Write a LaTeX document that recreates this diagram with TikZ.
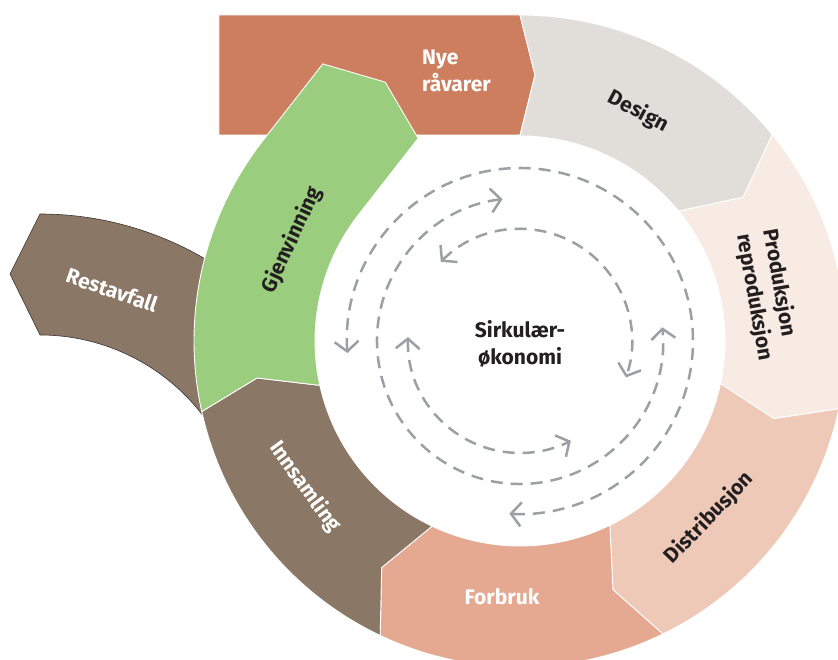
\documentclass[tikz,border=0pt]{standalone}
\usepackage{fontspec}
\setmainfont{Fira Sans}
\usetikzlibrary{arrows.meta,calc}

\definecolor{nyecol}{HTML}{CC7E5E}
\definecolor{designcol}{HTML}{E1DEDA}
\definecolor{prodcol}{HTML}{F8EBE3}
\definecolor{distcol}{HTML}{EFC9B8}
\definecolor{forbcol}{HTML}{E5A891}
\definecolor{browncol}{HTML}{8A7765}
\definecolor{gjencol}{HTML}{9BCD7E}
\definecolor{dashcol}{HTML}{9CA0A4}
\definecolor{txtcol}{HTML}{231F20}
\definecolor{restline}{HTML}{3A3532}

\begin{document}
\begin{tikzpicture}[x=1pt,y=1pt,
    ringseg/.style={draw=white,line width=0.9pt,line join=round},
    lbl/.style={font=\bfseries\fontsize{21}{27}\selectfont,align=center,inner sep=0pt},
    cycarrow/.style={draw=dashcol,line width=2.5pt,dash pattern=on 12pt off 8pt,
      {Straight Barb[length=10pt,width=24pt]}-{Straight Barb[length=10pt,width=24pt]}}]
      \useasboundingbox (-520,-319) rectangle (318,341);
      \clip (-520,-319) rectangle (318,341);

      %restavfall
      \coordinate (rest_c) at (-480,-199);
      \path[fill=browncol,draw=restline,line width=0.6pt] ($(rest_c)+(33:326pt)$) arc[start angle=33,end angle=90,radius=326pt]
        -- ($(rest_c)+(-30,266)$) -- ($(rest_c)+(90:205pt)$) arc[start angle=90,end angle=33,radius=205pt] -- cycle;

      %nye raavarer
      \path[ringseg,fill=nyecol] (-301,206) -- (-301,326) -- (0,326) -- (15,266) -- (0,206) -- cycle;

      %ring
      \path[ringseg,fill=designcol] (90:326pt) arc[start angle=90,end angle=39.3,radius=326pt] -- (32.8:265.5pt)
        -- (39.3:205pt) arc[start angle=39.3,end angle=90,radius=205pt] -- (15,266) -- cycle;
      \path[ringseg,fill=prodcol] (39.3:326pt) arc[start angle=39.3,end angle=-12,radius=326pt] -- (-17:265.5pt)
        -- (-12:205pt) arc[start angle=-12,end angle=39.3,radius=205pt] -- (32.8:265.5pt) -- cycle;
      \path[ringseg,fill=distcol] (-12:326pt) arc[start angle=-12,end angle=-64,radius=326pt] -- (-69.5:265.5pt)
        -- (-64:205pt) arc[start angle=-64,end angle=-12,radius=205pt] -- (-17:265.5pt) -- cycle;
      \path[ringseg,fill=forbcol] (-64:326pt) arc[start angle=-64,end angle=-115.4,radius=326pt] -- (-121.4:265.5pt)
        -- (-115.4:205pt) arc[start angle=-115.4,end angle=-64,radius=205pt] -- (-69.5:265.5pt) -- cycle;
      \path[ringseg,fill=browncol] (-115.4:326pt) arc[start angle=-115.4,end angle=-167.5,radius=326pt] -- (-172:265.5pt)
        -- (-167.5:205pt) arc[start angle=-167.5,end angle=-115.4,radius=205pt] -- (-121.4:265.5pt) -- cycle;

      %gjenvinning
      \coordinate (gjen_o) at ($(142:326pt)+(52:97pt)$);
      \coordinate (gjen_i) at ($(142:205pt)+(52:97pt)$);
      \coordinate (gjen_t) at ($(gjen_o)!0.5!(gjen_i)+(52:24pt)$);
      \path[ringseg,fill=gjencol] (192.5:326pt) arc[start angle=192.5,end angle=142,radius=326pt] -- (gjen_o) -- (gjen_t)
        -- (gjen_i) -- (142:205pt) arc[start angle=142,end angle=192.5,radius=205pt] -- (188:265.5pt) -- cycle;

      %dashed loops
      \draw[cycarrow] (184:173pt) arc[start angle=184,end angle=-93.5,radius=173pt];
      \draw[cycarrow] (97:143pt) arc[start angle=97,end angle=365.5,radius=143pt];
      \draw[cycarrow] (135:112pt) arc[start angle=135,end angle=-19,radius=112pt];
      \draw[cycarrow] (178:112pt) arc[start angle=178,end angle=297,radius=112pt];

      %labels
      \node[lbl,text=white,align=left] (nye) at (-63.5,270) {Nye\\råvarer};
      \node[lbl,text=txtcol,rotate=-28] (design) at (62.7:258pt) {Design};
      \node[lbl,text=txtcol,rotate=-80,align=left] (prod) at (10.5:252pt) {Produksjon\\reproduksjon};
      \node[lbl,text=txtcol,rotate=46] (dist) at (-43.1:259pt) {Distribusjon};
      \node[lbl,text=white] (forbruk) at (-18,-256) {Forbruk};
      \node[lbl,text=white,rotate=-54] (innsamling) at (-215,-146) {Innsamling};
      \node[lbl,text=txtcol,rotate=65] (gjenvinning) at (-228,101) {Gjenvinning};
      \node[lbl,text=white,rotate=-19] (restavfall) at (-408,51) {Restavfall};
      \node[lbl,text=txtcol] (sirk) at (0,-3) {Sirkulær-\\økonomi};

    \end{tikzpicture}
\end{document}
